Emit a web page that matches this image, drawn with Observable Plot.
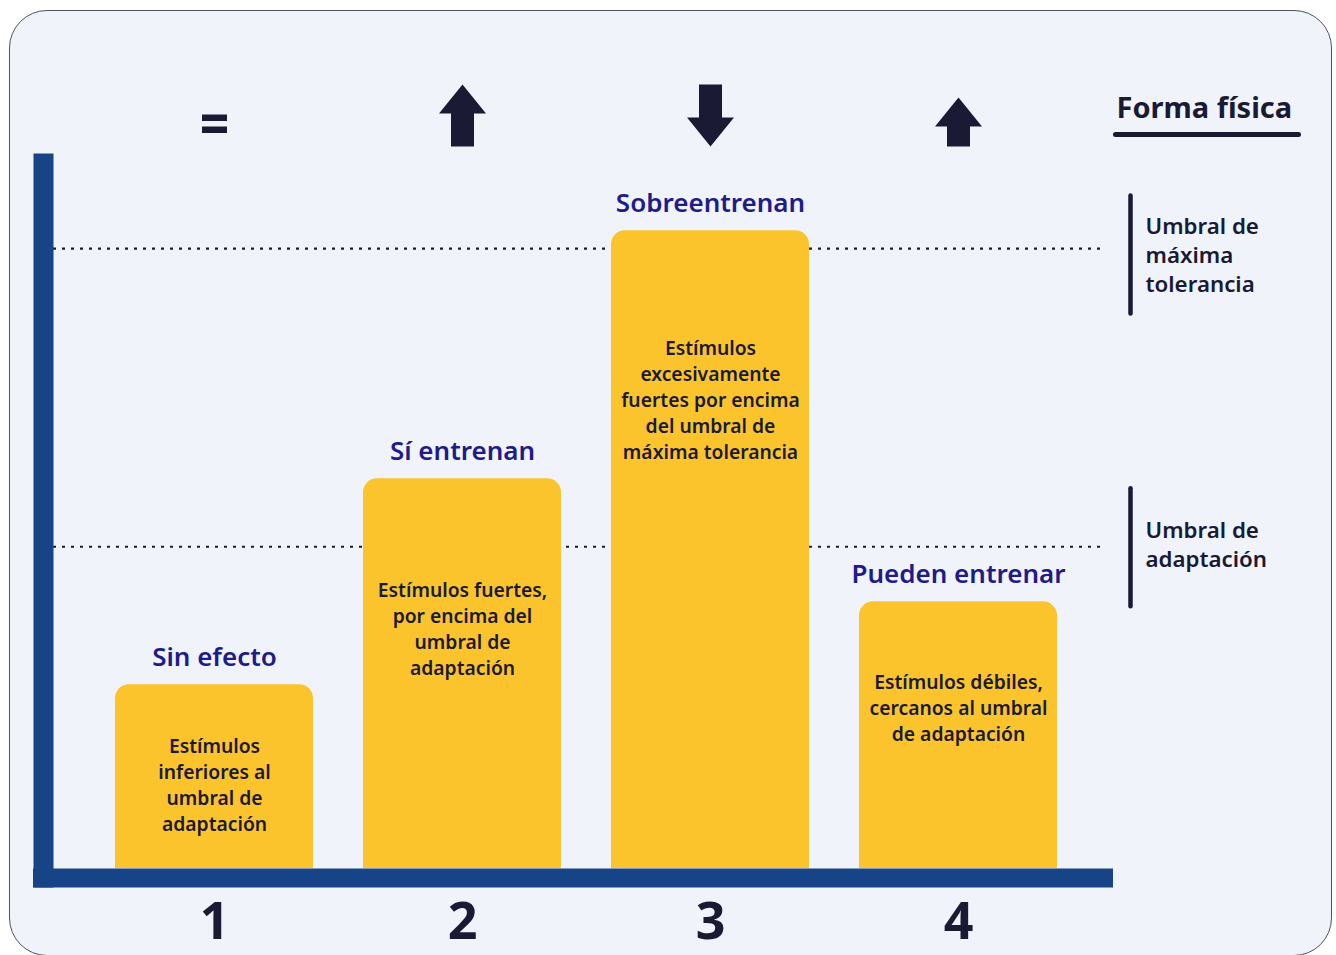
<!DOCTYPE html>
<html lang="es">
<head>
<meta charset="utf-8">
<script src="https://cdn.jsdelivr.net/npm/d3@7"></script>
<script src="https://cdn.jsdelivr.net/npm/@observablehq/plot@0.6"></script>
<style>
  html, body { margin: 0; padding: 0; background: #ffffff; overflow: hidden; }
  #page { position: relative; width: 1336px; height: 955px; }
  #card {
    position: absolute; left: 9px; top: 10px; width: 1323px; height: 946px;
    background: #f0f3f9; border: 1.3px solid #4d5063; border-radius: 38px;
    box-sizing: border-box;
  }
  #chart { position: absolute; left: 0; top: 0; }
</style>
</head>
<body>
<div id="page">
  <div id="card"></div>
  <div id="chart"></div>
</div>
<script>
// Four training scenarios, the stimulus level each one reaches,
// and what happens to fitness ("Forma física") in each case.
const categories = ["1", "2", "3", "4"];
const groupLabels = ["Sin efecto", "Sí entrenan", "Sobreentrenan", "Pueden entrenar"];
const stimulusLevel = [25.7, 54.5, 89.2, 37.3];
const stimulusNotes = [
  "Estímulos\ninferiores al\numbral de\nadaptación",
  "Estímulos fuertes,\npor encima del\numbral de\nadaptación",
  "Estímulos\nexcesivamente\nfuertes por encima\ndel umbral de\nmáxima tolerancia",
  "Estímulos débiles,\ncercanos al umbral\nde adaptación"
];
const fitnessChange = ["se mantiene", "mejora", "empeora", "mejora leve"];

// Reference thresholds on the same stimulus scale
const thresholdNames = ["Umbral de\nadaptación", "Umbral de\nmáxima\ntolerancia"];
const thresholdLevels = [45.0, 86.7];

const title = "Forma física";

const table = categories.map((c, i) => ({
  category: c,
  label: groupLabels[i],
  level: stimulusLevel[i],
  note: stimulusNotes[i],
  change: fitnessChange[i]
}));
const thresholds = thresholdLevels.map((v, i) => ({level: v, name: thresholdNames[i]}));

// Colours and type
const ink = "#1a1a35";
const indigo = "#1f1c8a";
const axisBlue = "#174486";
const barYellow = "#fbc42d";
const font = "'Noto Sans', 'Open Sans', sans-serif";

// Pictograms drawn as custom dot symbols (fixed pixel geometry)
function poly(points) {
  return {
    draw(ctx) {
      ctx.moveTo(points[0][0], points[0][1]);
      for (const [px, py] of points.slice(1)) ctx.lineTo(px, py);
      ctx.closePath();
    }
  };
}
const arrowUp = poly([[0, -31], [23.5, -2], [11.5, -2], [11.5, 31], [-11.5, 31], [-11.5, -2], [-23.5, -2]]);
const arrowUpSmall = poly([[0, -18], [23.5, 11], [11.5, 11], [11.5, 31], [-11.5, 31], [-11.5, 11], [-23.5, 11]]);
const arrowDown = poly([[-11.5, -31], [11.5, -31], [11.5, 2], [23.5, 2], [0, 31], [-23.5, 2], [-11.5, 2]]);
const equalSign = {
  draw(ctx) {
    for (const top of [-1, 11]) {
      ctx.moveTo(-12.5, top);
      ctx.lineTo(12.5, top);
      ctx.lineTo(12.5, top + 6.5);
      ctx.lineTo(-12.5, top + 6.5);
      ctx.closePath();
    }
  }
};
function roundedBar(w, h) {
  const r = w / 2;
  return {
    draw(ctx) {
      ctx.moveTo(-h / 2, -r);
      ctx.lineTo(h / 2, -r);
      ctx.arc(h / 2, 0, r, -Math.PI / 2, Math.PI / 2);
      ctx.lineTo(-h / 2, r);
      ctx.arc(-h / 2, 0, r, Math.PI / 2, 3 * Math.PI / 2);
      ctx.closePath();
    }
  };
}
function roundedColumn(w, h) {
  const r = w / 2;
  return {
    draw(ctx) {
      ctx.moveTo(r, -h / 2);
      ctx.lineTo(r, h / 2);
      ctx.arc(0, h / 2, r, 0, Math.PI);
      ctx.lineTo(-r, -h / 2);
      ctx.arc(0, -h / 2, r, Math.PI, 2 * Math.PI);
      ctx.closePath();
    }
  };
}

// Vertical offset of each note inside its bar, measured from the bar top
const noteOffset = {"1": 99, "2": 149, "3": 168, "4": 105};
const noteMarks = categories.map((c) =>
  Plot.text(table.filter((d) => d.category === c), {
    x: "category", y: "level", text: "note",
    dy: noteOffset[c], lineAnchor: "middle", lineHeight: 1.34,
    fontSize: 19.3, fontWeight: 600, fill: ink
  })
);

// Bracket and caption beside each threshold line
const bracketShift = [0.5, 6];
const captionShift = [-3.5, 5];
const thresholdMarks = thresholds.flatMap((t, i) => [
  Plot.dot([t], {y: "level", frameAnchor: "right", dx: 17, dy: bracketShift[i], r: 10,
    symbol: roundedColumn(4.5, 118), fill: ink, stroke: "none"}),
  Plot.text([t], {y: "level", text: "name", frameAnchor: "right", dx: 32, dy: captionShift[i],
    textAnchor: "start", lineAnchor: "middle", lineHeight: 1.29,
    fontSize: 22.3, fontWeight: 600, fill: ink})
]);

const chart = Plot.plot({
  width: 1336,
  height: 955,
  marginLeft: 33,
  marginRight: 223,
  marginTop: 153,
  marginBottom: 68,
  style: {background: "transparent", color: ink, fontFamily: font, overflow: "visible"},
  x: {type: "band", domain: categories, paddingInner: 0.2, paddingOuter: 0.2748, align: 0.595, axis: null},
  y: {domain: [0, 100], range: [868, 153], axis: null},
  symbol: {domain: fitnessChange, range: [equalSign, arrowUp, arrowDown, arrowUpSmall], legend: false},
  marks: [
    // threshold guide lines
    Plot.ruleY(thresholds, {y: "level", stroke: ink, strokeWidth: 2.2, strokeDasharray: "3,6", insetLeft: 20, insetRight: 7}),
    // stimulus bars, rounded on top
    Plot.barY(table, {x: "category", y: "level", fill: barYellow, ry1: 14}),
    Plot.text(table, {x: "category", y: "level", text: "label", dy: -27, fontSize: 26, fontWeight: 600, fill: indigo}),
    ...noteMarks,
    // axes
    Plot.ruleY([0], {stroke: axisBlue, strokeWidth: 19, dy: 9.5, strokeLinecap: "butt"}),
    Plot.frame({anchor: "left", stroke: axisBlue, strokeWidth: 20, dx: 10, strokeLinecap: "butt"}),
    Plot.axisX({anchor: "bottom", label: null, tickSize: 0, tickPadding: 15, fontSize: 52, fontWeight: 700, fill: ink}),
    // fitness change pictograms
    Plot.dot(table, {x: "category", symbol: "change", frameAnchor: "top", dy: -38, r: 10, fill: ink, stroke: "none"}),
    ...thresholdMarks,
    // header
    Plot.text([title], {frameAnchor: "top-right", dx: 3, dy: -45, textAnchor: "start", lineAnchor: "middle", fontSize: 29, fontWeight: 700, fill: ink}),
    Plot.dot([title], {frameAnchor: "top-right", dx: 93.5, dy: -19, r: 10, symbol: roundedBar(5, 183), fill: ink, stroke: "none"})
  ]
});

document.getElementById("chart").append(chart);
</script>
</body>
</html>
